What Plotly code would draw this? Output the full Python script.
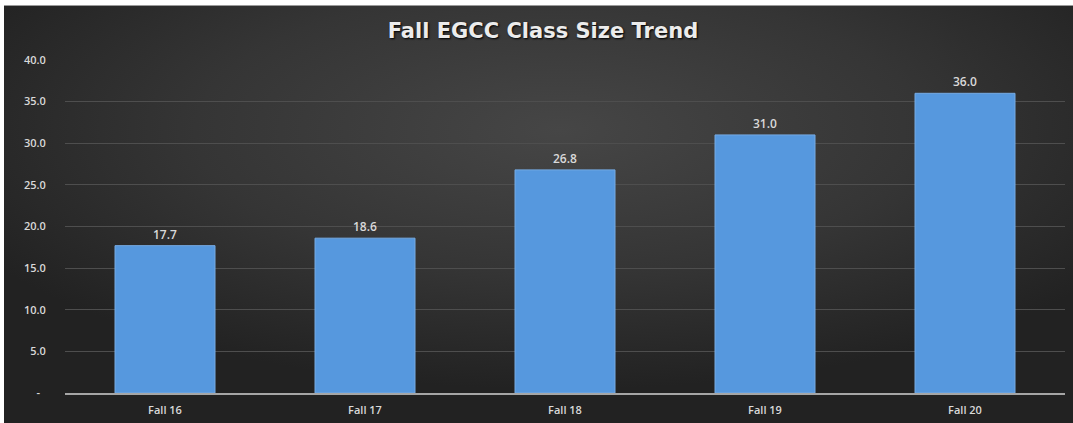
import base64
import plotly.graph_objects as go

categories = ["Fall 16", "Fall 17", "Fall 18", "Fall 19", "Fall 20"]
class_size = [17.7, 18.6, 26.8, 31.0, 36.0]
y_tickvals = [0, 5, 10, 15, 20, 25, 30, 35, 40]
y_ticktext = ["-\u00a0\u00a0", "5.0", "10.0", "15.0", "20.0", "25.0", "30.0", "35.0", "40.0"]

W, H = 1073, 423
ML, MR, MT, MB = 65, 8, 60, 30
PW, PH = W - ML - MR, H - MT - MB

svg = f"""<svg xmlns='http://www.w3.org/2000/svg' width='{W}' height='{H}' viewBox='0 0 {W} {H}' preserveAspectRatio='none'>
<defs><radialGradient id='g' cx='52%' cy='30%' r='62%' fx='52%' fy='30%'>
<stop offset='0%' stop-color='#464646'/><stop offset='55%' stop-color='#353535'/><stop offset='100%' stop-color='#222222'/>
</radialGradient></defs>
<rect x='0' y='0' width='{W}' height='{H}' fill='white'/>
<rect x='4' y='5' width='{W-4}' height='{H-5}' fill='url(#g)'/>
<rect x='4' y='5' width='{W-4}' height='1' fill='#9a9a9a'/>
</svg>"""
src = "data:image/svg+xml;base64," + base64.b64encode(svg.encode()).decode()

fig = go.Figure()
fig.add_trace(go.Bar(
    x=categories, y=class_size,
    marker=dict(color="#5698de", line=dict(width=1, color="#76abe3")),
    texttemplate="%{y:.1f}", textposition="outside",
    textfont=dict(family="Open Sans", size=12, color="#d9d9d9", weight=600),
    cliponaxis=False, width=0.5,
))

fig.update_layout(
    width=W, height=H,
    margin=dict(l=ML, r=MR, t=MT, b=MB, autoexpand=False),
    paper_bgcolor="#2e2e2e", plot_bgcolor="rgba(0,0,0,0)",
    showlegend=False,
    title=dict(text="<b>Fall EGCC Class Size Trend</b>", x=0.506, xanchor="center",
               y=1 - 31 / H, yanchor="middle",
               font=dict(family="DejaVu Sans", size=21, color="#ececec", shadow="1px 1px 2px #000")),
    images=[dict(source=src, xref="paper", yref="paper",
                 x=-ML / PW, y=1 + MT / PH, sizex=W / PW, sizey=H / PH,
                 xanchor="left", yanchor="top", sizing="stretch", layer="below")],
    font=dict(family="Open Sans", color="#d9d9d9"),
)
fig.update_yaxes(range=[0, 40], tickvals=y_tickvals, ticktext=y_ticktext,
                 showgrid=True, gridcolor="#4e4e4e", gridwidth=1,
                 zeroline=False, showline=False,
                 ticks="outside", ticklen=16, tickcolor="rgba(0,0,0,0)",
                 tickfont=dict(family="Open Sans", size=11, color="#d9d9d9", weight=600))
fig.update_xaxes(showgrid=False, showline=True, linecolor="#a6a6a6", linewidth=2,
                 ticks="outside", ticklen=6, tickcolor="rgba(0,0,0,0)",
                 tickfont=dict(family="Open Sans", size=11, color="#d9d9d9", weight=600))

fig.write_html("out.html")
